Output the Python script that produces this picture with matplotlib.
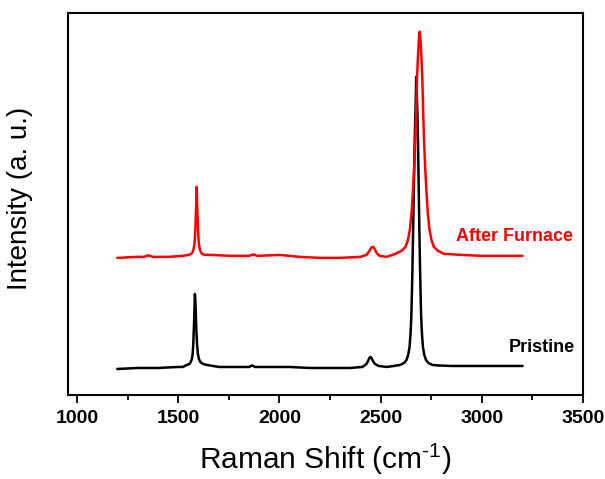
import numpy as np
import matplotlib
matplotlib.use('Agg')
import matplotlib.pyplot as plt

plt.rcParams['font.family'] = ['Liberation Sans', 'DejaVu Sans']
plt.rcParams['mathtext.fontset'] = 'custom'
plt.rcParams['mathtext.rm'] = 'Liberation Sans'
plt.rcParams['mathtext.default'] = 'regular'

# pristine spectrum (shift in cm-1, intensity in arbitrary units)
pristine_shift = [1200, 1300, 1400, 1500, 1522, 1542, 1555, 1562, 1567, 1571,
                  1574, 1576, 1578, 1580, 1582, 1584, 1586, 1588, 1590, 1593,
                  1597, 1602, 1609, 1622, 1642, 1700, 1800, 1850, 1865, 1880,
                  1950, 2050, 2150, 2250, 2350, 2410, 2430, 2440, 2446, 2450,
                  2455, 2462, 2472, 2490, 2530, 2566, 2596, 2616, 2628, 2636,
                  2643, 2648, 2652, 2655, 2658, 2661, 2664, 2667, 2670, 2673,
                  2676, 2679, 2682, 2685, 2688, 2691, 2694, 2697, 2700, 2704,
                  2709, 2716, 2724, 2736, 2756, 2786, 2850, 2950, 3050, 3150,
                  3200]
pristine_int = [26, 27, 27, 28, 28, 30, 31, 33, 36, 41,
                50, 62, 72, 85, 101, 96, 85, 72, 62, 50,
                41, 36, 33, 31, 30, 28, 28, 28, 29.5, 28,
                28, 28, 27, 27, 27, 28, 31, 35, 37.5, 38,
                37, 34, 31, 29, 28, 29, 30, 32, 35, 40,
                48, 62, 80, 105, 135, 170, 205, 240, 268, 290,
                318, 300, 280, 250, 210, 170, 135, 105, 80, 62,
                48, 40, 35, 32, 30, 29.5, 29, 29, 29, 29,
                29]

# after furnace spectrum
furnace_shift = [1200, 1300, 1330, 1352, 1375, 1450, 1520, 1551, 1564, 1571,
                 1576, 1580, 1583, 1585, 1587, 1589, 1591, 1593, 1595, 1597,
                 1599, 1602, 1606, 1611, 1618, 1631, 1660, 1760, 1850, 1870,
                 1890, 2000, 2100, 2200, 2300, 2400, 2430, 2445, 2455, 2463,
                 2470, 2480, 2495, 2530, 2573, 2603, 2623, 2635, 2645, 2653,
                 2660, 2666, 2671, 2675, 2678, 2681, 2684, 2687, 2690, 2693,
                 2696, 2699, 2702, 2705, 2708, 2711, 2715, 2720, 2726, 2733,
                 2741, 2751, 2763, 2783, 2813, 2900, 3000, 3100, 3200]
furnace_int = [137, 138, 138, 139.5, 138, 138, 139, 140, 141, 143,
               146, 151, 159, 170, 180, 192, 208, 192, 180, 170,
               159, 151, 146, 143, 141, 140, 140, 139, 139, 140.5,
               139, 140, 138, 137, 137, 138, 140, 144, 147.5, 148,
               146, 142, 139, 138, 141, 144, 148, 155, 166, 182,
               205, 228, 252, 278, 302, 322, 336, 348, 358, 363,
               358, 348, 336, 322, 302, 278, 252, 228, 205, 182,
               166, 155, 148, 144, 141, 140, 139, 139, 139]

x_ticks = [1000, 1500, 2000, 2500, 3000, 3500]

fig = plt.figure(figsize=(6.05, 4.79), dpi=100)
ax = fig.add_axes([0.1124, 0.1754, 0.8512, 0.7981])

ax.plot(pristine_shift, pristine_int, color='black', lw=1.8)
ax.plot(furnace_shift, furnace_int, color='red', lw=1.8)

ax.text(3460, 47, 'Pristine', color='black', fontsize=13,
        fontweight='bold', ha='right', va='center')
ax.text(3452, 158, 'After Furnace', color='red', fontsize=13,
        fontweight='bold', ha='right', va='center')

ax.set_xlim(955, 3500)
ax.set_ylim(0, 382)
ax.set_xticks(x_ticks)
ax.set_xticks(np.arange(1250, 3500, 500), minor=True)
ax.set_yticks([])
ax.tick_params(axis='x', which='major', direction='out', length=6, width=1.3,
               pad=4.5, labelsize=14)
ax.tick_params(axis='x', which='minor', direction='out', length=3.5, width=1.3)
for lab in ax.get_xticklabels():
    lab.set_fontweight('bold')
for sp in ax.spines.values():
    sp.set_linewidth(1.5)

ax.set_xlabel('Raman Shift (cm$^{\\text{-}1}$)', fontsize=21.5, labelpad=11)
ax.set_ylabel('Intensity (a. u.)', fontsize=20)
ax.yaxis.set_label_coords(-0.068, 0.515)

fig.savefig('out.png', dpi=100)
